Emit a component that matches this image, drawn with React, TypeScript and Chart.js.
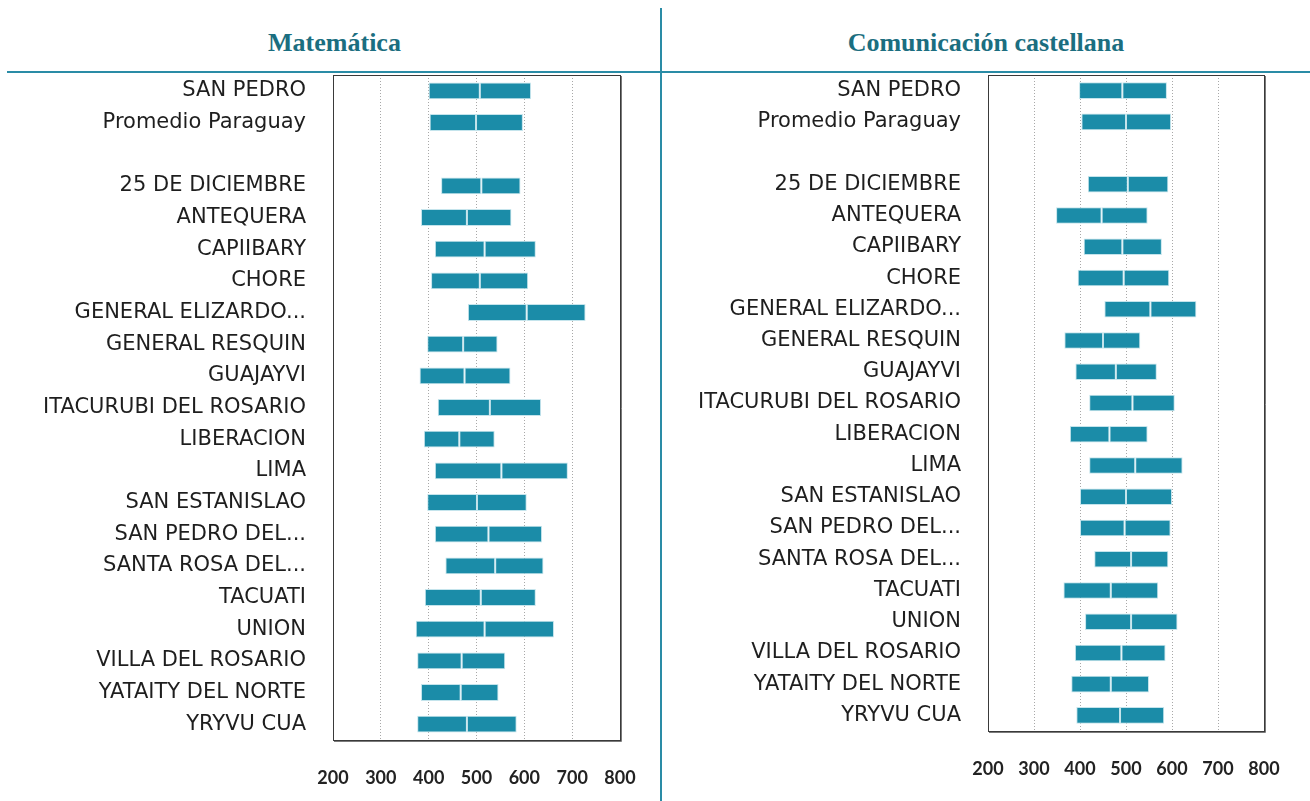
import React, { useEffect, useRef } from "react";
import { Chart, registerables } from "chart.js";

Chart.register(...registerables);

const categories = [
  "SAN PEDRO",
  "Promedio Paraguay",
  "",
  "25 DE DICIEMBRE",
  "ANTEQUERA",
  "CAPIIBARY",
  "CHORE",
  "GENERAL ELIZARDO...",
  "GENERAL RESQUIN",
  "GUAJAYVI",
  "ITACURUBI DEL ROSARIO",
  "LIBERACION",
  "LIMA",
  "SAN ESTANISLAO",
  "SAN PEDRO DEL...",
  "SANTA ROSA DEL...",
  "TACUATI",
  "UNION",
  "VILLA DEL ROSARIO",
  "YATAITY DEL NORTE",
  "YRYVU CUA",
];

const mathLow = [400, 402, null, 426, 384, 413, 405, 482, 397, 381, 419, 390, 413, 397, 413, 435, 392, 373, 376, 384, 376];
const mathMean = [507, 499, null, 510, 480, 517, 507, 605, 472, 475, 528, 464, 552, 501, 525, 539, 509, 517, 469, 467, 480];
const mathHigh = [614, 597, null, 592, 573, 624, 608, 728, 544, 571, 635, 538, 691, 605, 637, 640, 624, 662, 560, 546, 584];

const comLow = [398, 403, null, 417, 348, 408, 395, 453, 366, 390, 420, 378, 420, 400, 400, 431, 364, 411, 389, 381, 392];
const comMean = [492, 500, null, 504, 447, 492, 495, 553, 450, 478, 514, 464, 520, 500, 497, 511, 467, 511, 490, 467, 487];
const comHigh = [589, 598, null, 592, 547, 578, 594, 653, 531, 567, 606, 547, 623, 600, 597, 592, 570, 612, 586, 550, 583];

const xTickValues = [200, 300, 400, 500, 600, 700, 800];

const BAR = "#1b8ca8";
const BAR_EDGE = "#c4e4ec";

const boxPlugin = {
  id: "plotBox",
  afterDraw(chart: any) {
    const { ctx, chartArea } = chart;
    const { left, top, right, bottom } = chartArea;
    ctx.save();
    ctx.strokeStyle = "#3a3a3a";
    ctx.lineWidth = 1;
    ctx.strokeRect(left + 0.5, top + 0.5, right - left, bottom - top);
    ctx.strokeStyle = "#7a7a7a";
    ctx.beginPath();
    ctx.moveTo(right + 1.5, top + 1);
    ctx.lineTo(right + 1.5, bottom + 1.5);
    ctx.lineTo(left + 1, bottom + 1.5);
    ctx.stroke();
    ctx.restore();
  },
};

function makeConfig(
  low: (number | null)[],
  mean: (number | null)[],
  high: (number | null)[],
  axisWidth: number,
  rightPad: number
) {
  const seg1 = low.map((l, i) => (l == null || mean[i] == null ? null : [l, mean[i] as number]));
  const seg2 = mean.map((m, i) => (m == null || high[i] == null ? null : [m, high[i] as number]));
  const common = {
    backgroundColor: BAR,
    borderColor: BAR_EDGE,
    borderWidth: 1,
    borderSkipped: false,
    grouped: false,
    categoryPercentage: 1,
    barPercentage: 0.53,
  };
  return {
    type: "bar" as const,
    data: {
      labels: categories,
      datasets: [
        { label: "low-mean", data: seg1, ...common },
        { label: "mean-high", data: seg2, ...common },
      ],
    },
    options: {
      indexAxis: "y" as const,
      animation: false as const,
      responsive: false,
      maintainAspectRatio: false,
      layout: { padding: { top: 10, right: rightPad, bottom: 0, left: 0 } },
      plugins: { legend: { display: false }, tooltip: { enabled: false }, title: { display: false } },
      scales: {
        x: {
          type: "linear" as const,
          min: 200,
          max: 800,
          afterBuildTicks: (axis: any) => {
            axis.ticks = xTickValues.map((v) => ({ value: v }));
          },
          afterFit: (axis: any) => {
            axis.height = 50;
            axis.paddingLeft = 0;
            axis.paddingRight = 0;
          },
          grid: { display: true, color: "#a8a8a8", lineWidth: 1, drawTicks: false },
          border: { display: false, dash: [1, 2] },
          ticks: {
            padding: 27,
            color: "#222",
            font: { family: "Lato", size: 18, weight: "bold" as const },
            maxRotation: 0,
            autoSkip: false,
          },
        },
        y: {
          type: "category" as const,
          afterFit: (axis: any) => {
            axis.width = axisWidth;
            axis.paddingTop = 0;
            axis.paddingBottom = 0;
          },
          grid: { display: false, drawTicks: false },
          border: { display: false },
          ticks: {
            padding: 27,
            color: "#1e1e1e",
            font: { family: "DejaVu Sans", size: 21 },
            autoSkip: false,
          },
        },
      },
    },
    plugins: [boxPlugin],
  };
}

function Panel(props: {
  left: number;
  width: number;
  height: number;
  axisWidth: number;
  rightPad: number;
  low: (number | null)[];
  mean: (number | null)[];
  high: (number | null)[];
}) {
  const ref = useRef<HTMLCanvasElement | null>(null);
  useEffect(() => {
    if (!ref.current) return;
    const cfg: any = makeConfig(props.low, props.mean, props.high, props.axisWidth, props.rightPad);
    const chart = new Chart(ref.current, cfg);
    return () => chart.destroy();
  }, []);
  return (
    <canvas
      ref={ref}
      width={props.width}
      height={props.height}
      style={{ position: "absolute", left: props.left, top: 65, width: props.width, height: props.height }}
    />
  );
}

export default function App() {
  const titleStyle: React.CSSProperties = {
    position: "absolute",
    top: 26,
    textAlign: "center",
    fontFamily: "'Liberation Serif', 'Times New Roman', serif",
    fontWeight: "bold",
    fontSize: 26,
    lineHeight: "34px",
    color: "#1b6e80",
    whiteSpace: "nowrap",
  };
  return (
    <div style={{ position: "absolute", left: 0, top: 0, width: 1310, height: 801, background: "#fff", overflow: "hidden" }}>
      <div style={{ ...titleStyle, left: 8, width: 653 }}>Matemática</div>
      <div style={{ ...titleStyle, left: 662, width: 648 }}>Comunicación castellana</div>
      <div style={{ position: "absolute", left: 7, top: 71, width: 1303, height: 2, background: "#2a8ca6" }} />
      <div style={{ position: "absolute", left: 660, top: 8, width: 2, height: 793, background: "#2a8ca6" }} />
      <Panel left={0} width={660} height={725} axisWidth={333} rightPad={40} low={mathLow} mean={mathMean} high={mathHigh} />
      <Panel left={662} width={648} height={716} axisWidth={326} rightPad={46} low={comLow} mean={comMean} high={comHigh} />
    </div>
  );
}
